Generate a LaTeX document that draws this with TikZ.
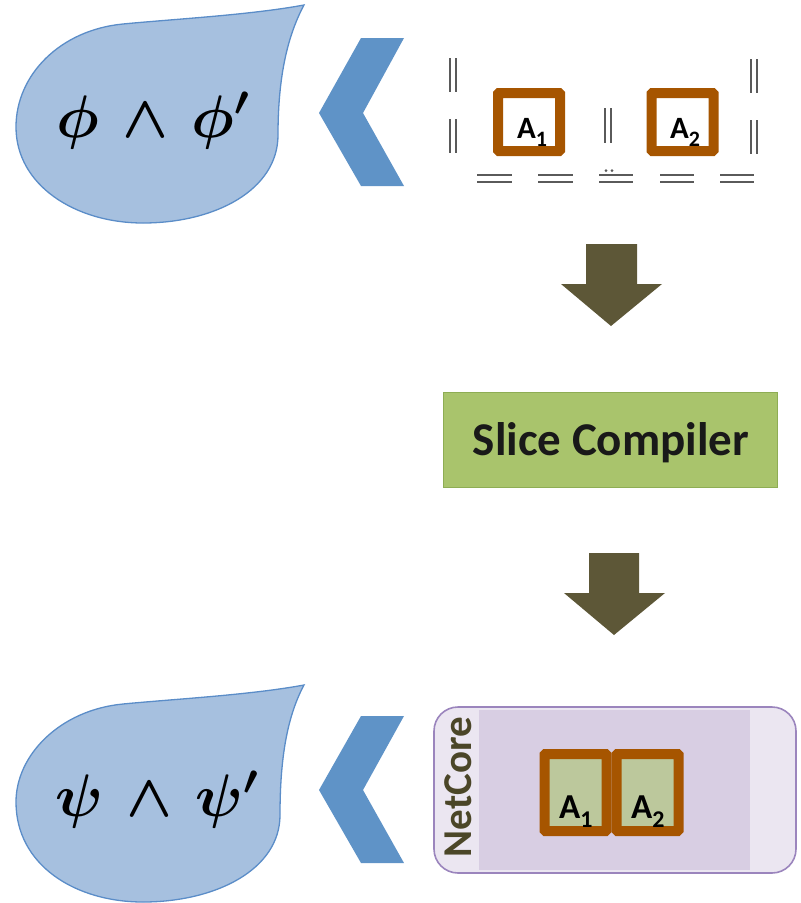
\RequirePackage{fix-cm}
\documentclass[tikz,border=0pt]{standalone}
\usepackage{fontspec}
\usepackage{amsmath,bm}
\newfontfamily\calfont{Carlito}
\definecolor{dropfill}{HTML}{A6C0DF}
\definecolor{dropline}{HTML}{5B8DC8}
\definecolor{chev}{HTML}{5F93C7}
\definecolor{bargray}{HTML}{5A5A5A}
\definecolor{brickbrown}{HTML}{A65500}
\definecolor{arrowolive}{HTML}{5D5737}
\definecolor{slicefill}{HTML}{A9C46C}
\definecolor{sliceline}{HTML}{8EAD54}
\definecolor{ncline}{HTML}{9B85BD}
\definecolor{ncouter}{HTML}{EBE6F1}
\definecolor{ncinner}{HTML}{D8CEE3}
\definecolor{nctext}{HTML}{4B4628}
\definecolor{boxgreen}{HTML}{BCC89C}
\begin{document}
\begin{tikzpicture}[x=1pt,y=-1pt,
  drop/.style={fill=dropfill,draw=dropline,line width=1.3pt},
  chevron/.style={fill=chev},
  blockarrow/.style={fill=arrowolive},
  bars/.style={draw=bargray,line width=2.6pt},
  slicebox/.style={rectangle,draw=sliceline,line width=1.6pt,fill=slicefill,
    minimum width=334pt,minimum height=95pt,inner sep=0pt},
  abox/.style={rectangle,draw=brickbrown,line width=10pt,rounded corners=1pt,
    minimum width=62pt,inner sep=0pt},
  alabel/.style={font=\calfont\bfseries,text=black,inner sep=0pt,anchor=base west},
  formula/.style={font=\fontsize{60}{64}\selectfont,inner sep=0pt}
]
\useasboundingbox (0,0) rectangle (801,903);

% ---- top: formula bubble and chevron
\draw[drop] (304,5) .. controls (250,15) and (175,19) .. (123,24)
  .. controls (60,30) and (16,75) .. (16,127)
  .. controls (16,185) and (75,223) .. (143,223)
  .. controls (215,223) and (278,190) .. (278,135)
  .. controls (278,75) and (288,35) .. (304,5) -- cycle;
\node[formula] (phi) at (153,121) {$\bm{\phi}\,\bm{\wedge}\,\bm{\phi'}$};
\fill[chevron] (404,38) -- (361,38) -- (319,113) -- (361,186) -- (404,186) -- (363,113) -- cycle;

% ---- top: parallel composition of the two slices
\foreach \x/\ya/\yb in {453/58/92, 453/119/153, 754/59/93, 754/120/154, 608/108/143}
  \draw[bars] (\x-3,\ya) -- (\x-3,\yb) (\x+3,\ya) -- (\x+3,\yb);
\foreach \xa/\xb in {477/512, 538/573, 599/633, 660/694, 720/754}
  \draw[bars] (\xa,175) -- (\xb,175) (\xa,182) -- (\xb,182);
\fill[bargray] (606,170.5) circle (1.5pt) (612,170.5) circle (1.5pt);

\node[abox,minimum height=58pt,fill=white] (ta1) at (529,122) {};
\node[abox,minimum height=58pt,fill=white] (ta2) at (682.5,122) {};
\node[alabel,font=\calfont\bfseries\fontsize{31}{31}\selectfont] (ta1l) at (517,138)
  {A\raisebox{-0.28em}{\fontsize{22}{22}\selectfont 1}};
\node[alabel,font=\calfont\bfseries\fontsize{31}{31}\selectfont] (ta2l) at (670,138)
  {A\raisebox{-0.28em}{\fontsize{22}{22}\selectfont 2}};

% ---- compiler pipeline
\fill[blockarrow] (586,244) -- (637,244) -- (637,284) -- (662,284) -- (611,326)
  -- (561,284) -- (586,284) -- cycle;
\node[slicebox] (sc) at (610.5,440) {};
\node[font=\calfont\bfseries\fontsize{47}{47}\selectfont,text=black!90] (sct) at (611,443) {Slice Compiler};
\fill[blockarrow] (589,553) -- (639,553) -- (639,593) -- (665,593) -- (614,635)
  -- (564,593) -- (589,593) -- cycle;

% ---- bottom: formula bubble and chevron
\begin{scope}[yshift=-680pt]
\draw[drop] (304,5) .. controls (250,15) and (175,19) .. (123,24)
  .. controls (60,30) and (16,75) .. (16,122)
  .. controls (16,185) and (75,222) .. (143,222)
  .. controls (215,222) and (280,190) .. (280,135)
  .. controls (280,75) and (288,35) .. (304,5) -- cycle;
\end{scope}
\node[formula] (psi) at (157,800) {$\bm{\psi}\,\bm{\wedge}\,\bm{\psi'}$};
\fill[chevron] (404,716) -- (361,716) -- (319,790) -- (361,863) -- (404,863) -- (363,790) -- cycle;

% ---- bottom: NetCore container with the compiled slices
\node[rectangle,rounded corners=24pt,draw=ncline,line width=1.6pt,fill=ncouter,
  minimum width=362pt,minimum height=166pt,inner sep=0pt] (nc) at (615,790) {};
\fill[ncinner] (479,710) rectangle (750,870);
\node[rotate=90,font=\calfont\bfseries\fontsize{41}{41}\selectfont,text=nctext] (nct) at (458,787) {NetCore};
\node[abox,minimum height=77pt,fill=boxgreen] (ba1) at (575.5,792.5) {};
\node[abox,minimum height=77pt,fill=boxgreen] (ba2) at (647.5,792.5) {};
\node[alabel,font=\calfont\bfseries\fontsize{35}{35}\selectfont] (ba1l) at (559,818)
  {A\raisebox{-0.28em}{\fontsize{24}{24}\selectfont 1}};
\node[alabel,font=\calfont\bfseries\fontsize{35}{35}\selectfont] (ba2l) at (631,818)
  {A\raisebox{-0.28em}{\fontsize{24}{24}\selectfont 2}};
\end{tikzpicture}
\end{document}
